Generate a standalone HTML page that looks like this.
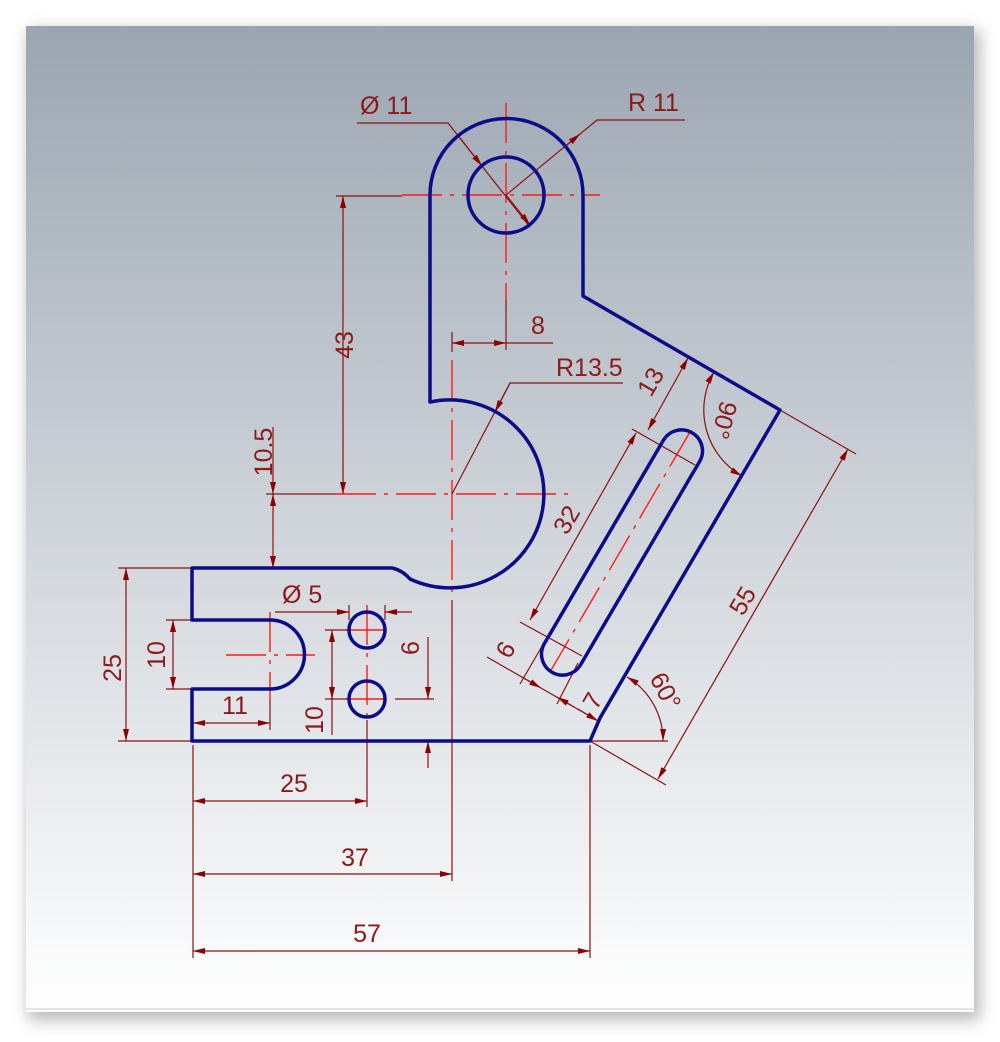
<!DOCTYPE html>
<html><head><meta charset="utf-8"><style>
html,body{margin:0;padding:0;background:#fff;width:1000px;height:1042px;overflow:hidden}
svg{display:block}
text{font-family:"Liberation Sans",sans-serif;font-size:25px;fill:#8b1a1a}
</style></head><body>
<svg width="1000" height="1042" viewBox="0 0 1000 1042" xmlns="http://www.w3.org/2000/svg">
<defs>
<linearGradient id="bg" x1="0" y1="0" x2="0" y2="1">
<stop offset="0" stop-color="#9ba5b1"/><stop offset="0.5" stop-color="#cfd4da"/><stop offset="1" stop-color="#ffffff"/>
</linearGradient>
<filter id="sh" x="-10%" y="-10%" width="120%" height="120%"><feGaussianBlur stdDeviation="8"/></filter>
<marker id="a" viewBox="0 0 12 6" refX="12" refY="3" markerWidth="12" markerHeight="6" markerUnits="userSpaceOnUse" orient="auto-start-reverse">
<path d="M0,0 L12,3 L0,6 Z" fill="#8b0000"/></marker>
</defs>
<rect x="28" y="30" width="952" height="990" fill="#888" opacity="0.6" filter="url(#sh)"/>
<rect x="26" y="26" width="948" height="986" fill="url(#bg)"/>
<line x1="26" y1="1009" x2="974" y2="1009" stroke="#ccc" stroke-width="1"/>

<!-- center lines -->
<g stroke="#ff1a1a" stroke-width="1.4" fill="none" stroke-dasharray="40 8 4 8">
<line x1="506" y1="103" x2="506" y2="300"/>
<line x1="402" y1="195" x2="600" y2="195"/>
<line x1="452" y1="360" x2="452" y2="600"/>
<line x1="336" y1="494" x2="570" y2="494"/>
<line x1="226" y1="655" x2="315" y2="655"/>
<line x1="270" y1="612" x2="270" y2="700"/>
<line x1="367" y1="605" x2="367" y2="725"/>
<line x1="346" y1="630" x2="390" y2="630"/>
<line x1="346" y1="699" x2="390" y2="699"/>
<line x1="690" y1="432" x2="550" y2="672"/>
</g>

<!-- dimension lines -->
<g stroke="#8b1111" stroke-width="1.2" fill="none">
<polyline points="357,123 448,123 530,227"/>
<line x1="460" y1="138" x2="482" y2="166" marker-end="url(#a)"/>
<line x1="506" y1="195" x2="530" y2="225" marker-end="url(#a)"/>
<polyline points="685,120 597,120 506,195"/>
<line x1="580" y1="134" x2="567" y2="145" marker-start="url(#a)"/>
<line x1="336" y1="196" x2="402" y2="196"/>
<line x1="343" y1="196" x2="343" y2="494" marker-start="url(#a)" marker-end="url(#a)"/>
<line x1="266" y1="494" x2="336" y2="494"/>
<line x1="273" y1="427" x2="273" y2="494" marker-end="url(#a)"/>
<line x1="273" y1="494" x2="273" y2="568" marker-start="url(#a)" marker-end="url(#a)"/>
<line x1="452" y1="332" x2="452" y2="352"/>
<line x1="506" y1="300" x2="506" y2="350"/>
<line x1="452" y1="343" x2="506" y2="343" marker-start="url(#a)" marker-end="url(#a)"/>
<line x1="506" y1="343" x2="553" y2="343"/>
<polyline points="623,383 510,383 452,494"/>
<line x1="510" y1="383" x2="495" y2="412" marker-end="url(#a)"/>
<line x1="118" y1="568" x2="192" y2="568"/>
<line x1="118" y1="741" x2="192" y2="741"/>
<line x1="126" y1="568" x2="126" y2="741" marker-start="url(#a)" marker-end="url(#a)"/>
<line x1="166" y1="620" x2="192" y2="620"/>
<line x1="166" y1="689" x2="192" y2="689"/>
<line x1="173" y1="620" x2="173" y2="689" marker-start="url(#a)" marker-end="url(#a)"/>
<line x1="270" y1="700" x2="270" y2="730"/>
<line x1="193" y1="723" x2="270" y2="723" marker-start="url(#a)" marker-end="url(#a)"/>
<line x1="349" y1="605" x2="349" y2="620"/>
<line x1="385" y1="605" x2="385" y2="620"/>
<line x1="275" y1="612" x2="349" y2="612" marker-end="url(#a)"/>
<line x1="412" y1="612" x2="385" y2="612" marker-end="url(#a)"/>
<line x1="325" y1="630" x2="350" y2="630"/>
<line x1="325" y1="699" x2="350" y2="699"/>
<line x1="332" y1="630" x2="332" y2="735" marker-start="url(#a)"/>
<line x1="332" y1="699" x2="332" y2="680" marker-start="url(#a)"/>
<line x1="395" y1="699" x2="434" y2="699"/>
<line x1="428" y1="637" x2="428" y2="699" marker-end="url(#a)"/>
<line x1="428" y1="768" x2="428" y2="741" marker-end="url(#a)"/>
<line x1="193" y1="745" x2="193" y2="958"/>
<line x1="367" y1="720" x2="367" y2="807"/>
<line x1="452" y1="600" x2="452" y2="881"/>
<line x1="590" y1="745" x2="590" y2="958"/>
<line x1="193" y1="801" x2="367" y2="801" marker-start="url(#a)" marker-end="url(#a)"/>
<line x1="193" y1="874" x2="452" y2="874" marker-start="url(#a)" marker-end="url(#a)"/>
<line x1="193" y1="951" x2="590" y2="951" marker-start="url(#a)" marker-end="url(#a)"/>
<line x1="780" y1="410" x2="856" y2="454"/>
<line x1="590" y1="741" x2="666" y2="785"/>
<line x1="848" y1="449" x2="658" y2="779" marker-start="url(#a)" marker-end="url(#a)"/>
<line x1="632" y1="429" x2="695" y2="465"/>
<line x1="688" y1="358" x2="648" y2="430" marker-start="url(#a)" marker-end="url(#a)"/>
<line x1="520" y1="622" x2="582" y2="656"/>
<line x1="636" y1="433" x2="530" y2="620" marker-start="url(#a)" marker-end="url(#a)"/>
<line x1="520" y1="684" x2="548" y2="636"/>
<line x1="557" y1="704" x2="578" y2="663"/>
<line x1="487" y1="657" x2="600" y2="722"/>
<line x1="522" y1="677" x2="541" y2="688" marker-end="url(#a)"/>
<line x1="574" y1="707" x2="557" y2="697" marker-end="url(#a)"/>
<line x1="578" y1="709" x2="598" y2="721" marker-end="url(#a)"/>
<path d="M714,372 A76,76 0 0,0 742,476" marker-start="url(#a)" marker-end="url(#a)"/>
<line x1="590" y1="741" x2="668" y2="741"/>
<path d="M627,677 A74,74 0 0,1 663,741" marker-start="url(#a)" marker-end="url(#a)"/>
</g>

<!-- outline -->
<g stroke="#0c0c88" stroke-width="3.5" fill="none" stroke-linejoin="round">
<path d="M192,568 L392,568 Q402,570 410,579 A94,94 0 1,0 430,402 L430,195 A76.5,76.5 0 0,1 583,195 L583,296 L780,410 L600,718 L590,741 L192,741 L192,689 L270,689 A34.5,34.5 0 0,0 270,620 L192,620 Z"/>
<circle cx="506" cy="195" r="38"/>
<circle cx="367" cy="630" r="18"/>
<circle cx="367" cy="699" r="18"/>
<path d="M663.9,439.4 A21,21 0 0,1 700.1,460.6 L580.1,665.6 A21,21 0 0,1 543.9,644.4 Z"/>
</g>

<!-- labels -->
<text x="360" y="114">Ø 11</text>
<text x="628" y="111">R 11</text>
<text x="531" y="334">8</text>
<text x="556" y="376">R13.5</text>
<text transform="translate(353,345) rotate(-90)" text-anchor="middle">43</text>
<text transform="translate(272,452) rotate(-90)" text-anchor="middle">10.5</text>
<text transform="translate(121,668) rotate(-90)" text-anchor="middle">25</text>
<text transform="translate(165,655) rotate(-90)" text-anchor="middle">10</text>
<text x="222" y="714">11</text>
<text x="282" y="603">Ø 5</text>
<text transform="translate(419,648) rotate(-90)" text-anchor="middle">6</text>
<text transform="translate(323,720) rotate(-90)" text-anchor="middle">10</text>
<text x="294" y="792" text-anchor="middle">25</text>
<text x="355" y="866" text-anchor="middle">37</text>
<text x="367" y="942" text-anchor="middle">57</text>
<text transform="translate(658,386) rotate(-60)" text-anchor="middle">13</text>
<text transform="translate(574,524) rotate(-60)" text-anchor="middle">32</text>
<text transform="translate(750,605) rotate(-60)" text-anchor="middle">55</text>
<text transform="translate(513,654) rotate(-60)" text-anchor="middle">6</text>
<text transform="translate(600,705) rotate(-60)" text-anchor="middle">7</text>
<text transform="translate(716,418) rotate(105)" text-anchor="middle">90°</text>
<text transform="translate(658,695) rotate(62)" text-anchor="middle">60°</text>
</svg>
</body></html>
